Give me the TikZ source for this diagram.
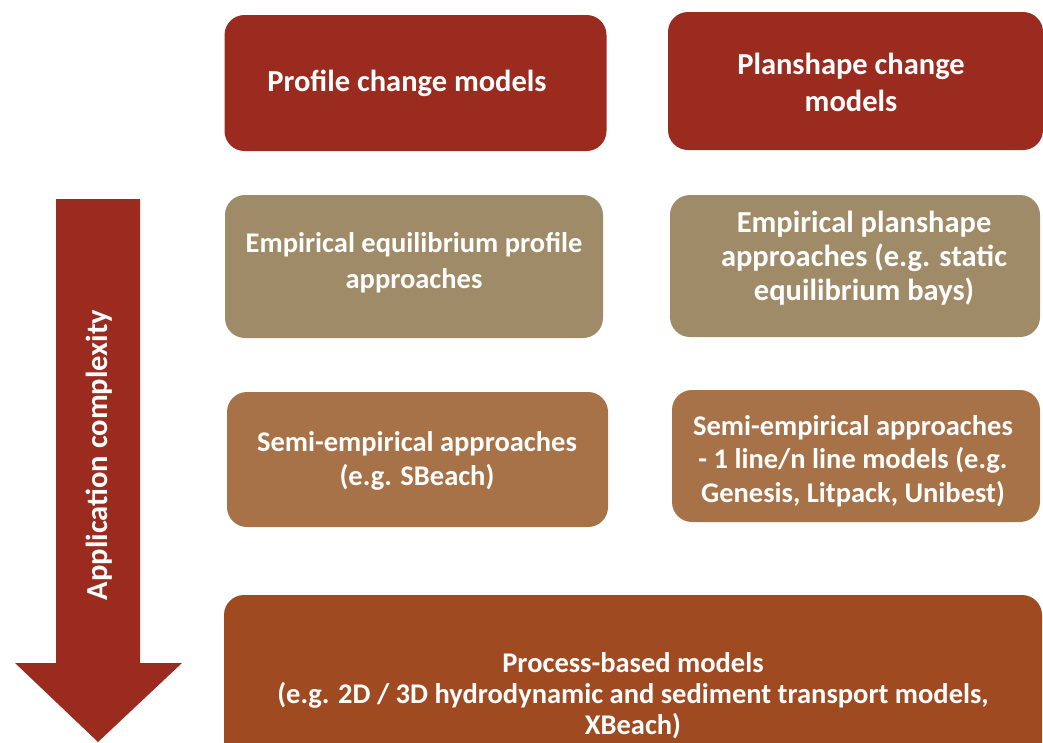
\documentclass[tikz,border=0pt]{standalone}
\usepackage{fontspec}
\setmainfont{Carlito}
\definecolor{rowone}{RGB}{155,43,31}
\definecolor{rowtwo}{RGB}{160,139,104}
\definecolor{rowthree}{RGB}{168,114,72}
\definecolor{rowfour}{RGB}{160,74,34}
\tikzset{
  mbox/.style={rounded corners=20pt, inner sep=0pt},
  mtext/.style={align=center, text=white, inner sep=0pt,
    font=\fontsize{28.5}{34}\selectfont\bfseries},
  bigtext/.style={mtext, font=\fontsize{30.5}{36}\selectfont\bfseries}
}
\begin{document}
\begin{tikzpicture}[x=1pt,y=-1pt]
\useasboundingbox (0,0) rectangle (1043,742);
\clip (0,0) rectangle (1043,742);
\fill[white] (0,0) rectangle (1043,742);
% arrow
\fill[rowone] (56,199) -- (140,199) -- (140,663) -- (182,663) -- (98,742) -- (15,663) -- (56,663) -- cycle;
\node[bigtext, rotate=90] (axis) at (99,455) {Application complexity};
% boxes
\node[mbox, fill=rowone, minimum width=382pt, minimum height=136pt] (pcm) at (415.5,83) {};
\node[bigtext] (pcmt) at (407,83) {Profile change models};
\node[mbox, fill=rowone, minimum width=375pt, minimum height=138pt] (scm) at (855.5,81) {};
\node[bigtext, font=\fontsize{30.5}{37}\selectfont\bfseries] (scmt) at (851,82) {Planshape change\\models};
\node[mbox, fill=rowtwo, minimum width=378pt, minimum height=143pt] (eep) at (414,266.5) {};
\node[mtext, font=\fontsize{28.5}{36}\selectfont\bfseries] (eept) at (414,263) {Empirical equilibrium profile\\approaches};
\node[mbox, fill=rowtwo, minimum width=370pt, minimum height=142pt] (epa) at (855,266) {};
\node[bigtext, font=\fontsize{30.5}{34}\selectfont\bfseries] (epat) at (864,258) {Empirical planshape\\approaches (e.g. static\\equilibrium bays)};
\node[mbox, fill=rowthree, minimum width=381pt, minimum height=135pt] (sea) at (417.5,459.5) {};
\node[mtext] (seat) at (417,461) {Semi-empirical approaches\\(e.g. SBeach)};
\node[mbox, fill=rowthree, minimum width=368pt, minimum height=132pt] (sel) at (856,456) {};
\node[mtext, font=\fontsize{28.5}{33.5}\selectfont\bfseries] (selt) at (853,461) {Semi-empirical approaches\\- 1 line/n line models (e.g.\\Genesis, Litpack, Unibest)};
\node[mbox, fill=rowfour, minimum width=818pt, minimum height=180pt] (pbm) at (633,685) {};
\node[mtext, font=\fontsize{28.5}{31}\selectfont\bfseries] (pbmt) at (633,696) {Process-based models\\(e.g. 2D / 3D hydrodynamic and sediment transport models,\\XBeach)};
\end{tikzpicture}
\end{document}
